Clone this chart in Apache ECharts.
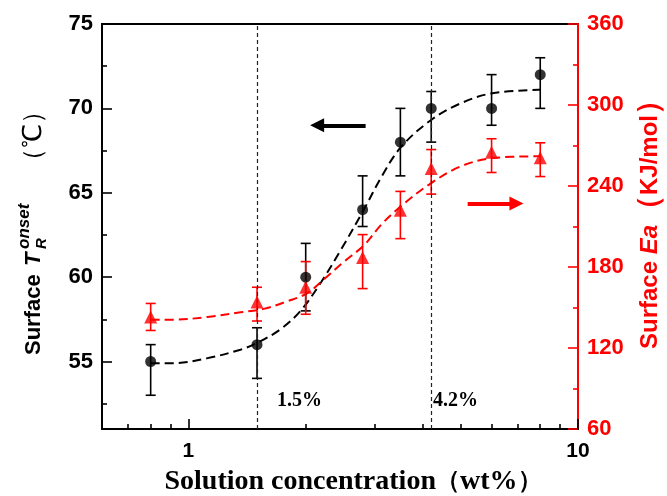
<!DOCTYPE html>
<html>
<head>
<meta charset="utf-8">
<script src="https://cdn.jsdelivr.net/npm/echarts@6/dist/echarts.min.js"></script>
<style>
html, body { margin: 0; padding: 0; background: #fff; }
#main { width: 667px; height: 496px; }
</style>
</head>
<body>
<div id="main"></div>
<script>
// measured points (solution concentration, wt%)
var conc = [0.8, 1.5, 2.0, 2.8, 3.5, 4.2, 6.0, 8.0];
// surface T_R onset (left axis, degC) with error bar ends
var tOnset = [55, 56, 60, 64, 68, 70, 70, 72];
var tHigh = [56, 57, 62, 66, 70, 71, 72, 73];
var tLow = [53, 54, 58, 63, 66, 68, 69, 70];
// surface Ea (right axis, kJ/mol) with error bar ends
var ea = [143, 154, 165, 187, 222, 253, 265, 261];
var eaHigh = [153, 165, 184, 204, 236, 267, 275, 272];
var eaLow = [133, 140, 145, 164, 201, 234, 250, 247];

// fitted curves
var tFitX = [0.8, 0.92, 1.12, 1.36, 1.5, 1.72, 1.94, 2.19, 2.46, 2.82, 3.14, 3.51, 4.19, 5.0, 6.03, 8.0];
var tFitY = [54.9, 54.9, 55.2, 55.7, 56.1, 56.9, 58.0, 59.7, 61.6, 64.0, 66.0, 67.7, 69.3, 70.3, 70.9, 71.1];
var eaFitX = [0.8, 0.92, 1.12, 1.36, 1.56, 1.79, 2.02, 2.27, 2.51, 2.82, 3.14, 3.51, 4.19, 5.0, 6.03, 8.0];
var eaFitY = [141, 141, 143, 146.4, 149, 154.5, 160.7, 173, 184, 196, 212, 225, 242, 254.5, 260.7, 262];

// threshold lines and arrows
var thresholds = [1.5, 4.2];
var leftArrow = [[2.85, 69], [2.14, 69]];
var rightArrow = [[5.21, 227], [6.95, 227]];

// axis ticks
var xMinor = [0.7, 0.8, 0.9, 2, 3, 4, 5, 6, 7, 8, 9];
var leftTicks = [55, 60, 65, 70, 75];
var leftMinor = [52.5, 57.5, 62.5, 67.5, 72.5];

function zip(a, b) {
  return a.map(function (v, i) { return [v, b[i]]; });
}

var sans = '"Liberation Sans", Arial, sans-serif';
var serif = '"Liberation Serif", "Times New Roman", serif';

function errBar(color, axisIdx, lo, hi) {
  return {
    type: 'custom',
    yAxisIndex: axisIdx,
    z: 4,
    silent: true,
    data: conc.map(function (c, i) { return [c, lo[i], hi[i]]; }),
    renderItem: function (params, api) {
      var x = api.value(0);
      var p1 = api.coord([x, api.value(1)]);
      var p2 = api.coord([x, api.value(2)]);
      var w = 5;
      var st = { stroke: color, lineWidth: 1.6 };
      return {
        type: 'group',
        children: [
          { type: 'line', shape: { x1: p1[0], y1: p1[1], x2: p2[0], y2: p2[1] }, style: st },
          { type: 'line', shape: { x1: p1[0] - w, y1: p1[1], x2: p1[0] + w, y2: p1[1] }, style: st },
          { type: 'line', shape: { x1: p2[0] - w, y1: p2[1], x2: p2[0] + w, y2: p2[1] }, style: st }
        ]
      };
    }
  };
}

var chart = echarts.init(document.getElementById('main'));

chart.setOption({
  animation: false,
  backgroundColor: '#fff',
  grid: [
    { left: 102, right: 89, top: 24, bottom: 67, outerBoundsMode: 'none', containLabel: false, show: true, borderColor: '#000', borderWidth: 2 },
    { left: 102, right: 89, top: 24, bottom: 67, outerBoundsMode: 'none', containLabel: false }
  ],
  xAxis: [
    {
      type: 'log', logBase: 10, min: 0.6, max: 10, gridIndex: 0,
      axisLine: { onZero: false, lineStyle: { color: '#000', width: 2 } },
      axisTick: { inside: true, length: 10, lineStyle: { color: '#000', width: 1.6 } },
      axisLabel: {
        margin: 12, color: '#000', fontFamily: sans, fontWeight: 'bold', fontSize: 21,
        formatter: function (v) {
          var l = Math.log10(v);
          return Math.abs(l - Math.round(l)) < 1e-6 ? String(Math.round(v)) : '';
        }
      },
      splitLine: { show: false },
      name: '{a|Solution concentration}{p|（}{a|wt%}{p|）}',
      nameLocation: 'middle',
      nameGap: 39,
      nameTextStyle: {
        padding: [0, 0, 0, 26],
        rich: {
          a: { color: '#000', fontFamily: serif, fontWeight: 'bold', fontSize: 28 },
          p: { color: '#000', fontFamily: serif, fontWeight: 'bold', fontSize: 24 }
        }
      }
    },
    {
      type: 'value', gridIndex: 1, min: Math.log10(0.6), max: 1,
      axisLine: { show: false, onZero: false },
      axisLabel: { show: false },
      splitLine: { show: false },
      axisTick: { show: true, inside: true, length: 5, customValues: xMinor.map(Math.log10), lineStyle: { color: '#000', width: 1.6 } }
    }
  ],
  yAxis: [
    {
      type: 'value', gridIndex: 0, position: 'left', min: 51, max: 75,
      axisLine: { show: true, onZero: false, lineStyle: { color: '#000', width: 2 } },
      axisTick: { show: true, inside: true, length: 10, customValues: leftTicks, lineStyle: { color: '#000', width: 1.6 } },
      axisLabel: { customValues: leftTicks, margin: 9, color: '#000', fontFamily: sans, fontWeight: 'bold', fontSize: 22 },
      splitLine: { show: false }
    },
    {
      type: 'value', gridIndex: 0, position: 'right', min: 60, max: 360, interval: 60,
      axisLine: { show: true, onZero: false, lineStyle: { color: '#ff0000', width: 2 } },
      axisTick: { show: true, inside: true, length: 10, lineStyle: { color: '#ff0000', width: 1.6 } },
      minorTick: { show: true, splitNumber: 2, length: 5, lineStyle: { color: '#ff0000', width: 1.6 } },
      axisLabel: { margin: 9, color: '#ff0000', fontFamily: sans, fontWeight: 'bold', fontSize: 22 },
      splitLine: { show: false }
    },
    {
      type: 'value', gridIndex: 1, position: 'left', min: 51, max: 75,
      axisLine: { show: false, onZero: false },
      axisLabel: { show: false },
      splitLine: { show: false },
      axisTick: { show: true, inside: true, length: 5, customValues: leftMinor, lineStyle: { color: '#000', width: 1.6 } }
    }
  ],
  series: [
    {
      type: 'line', xAxisIndex: 0, yAxisIndex: 0, z: 3,
      data: zip(tFitX, tFitY), smooth: 0.35, symbol: 'none', silent: true,
      lineStyle: { color: '#000', width: 2, type: [9, 5] },
      markLine: {
        silent: true, symbol: 'none', label: { show: false },
        lineStyle: { color: '#222', width: 1.2, type: [4, 3] },
        data: thresholds.map(function (t) { return { xAxis: t }; })
      }
    },
    {
      type: 'line', xAxisIndex: 0, yAxisIndex: 1, z: 3,
      data: zip(eaFitX, eaFitY), smooth: 0.35, symbol: 'none', silent: true,
      lineStyle: { color: '#ff0000', width: 2, type: [9, 5] }
    },
    errBar('#000', 0, tLow, tHigh),
    errBar('#ff0000', 1, eaLow, eaHigh),
    {
      type: 'scatter', xAxisIndex: 0, yAxisIndex: 0, z: 5,
      data: zip(conc, tOnset), symbol: 'circle', symbolSize: 11,
      itemStyle: { color: '#000' },
      markLine: {
        silent: true, symbol: ['none', 'triangle'], symbolSize: 14,
        label: { show: false },
        lineStyle: { color: '#000', width: 4, type: 'solid' },
        data: [[{ coord: leftArrow[0] }, { coord: leftArrow[1] }]]
      }
    },
    {
      type: 'scatter', xAxisIndex: 0, yAxisIndex: 1, z: 5,
      data: zip(conc, ea), symbol: 'triangle', symbolSize: 13,
      itemStyle: { color: '#ff0000' },
      markLine: {
        silent: true, symbol: ['none', 'triangle'], symbolSize: 14,
        label: { show: false },
        lineStyle: { color: '#ff0000', width: 4, type: 'solid' },
        data: [[{ coord: rightArrow[0] }, { coord: rightArrow[1] }]]
      }
    }
  ],
  graphic: [
    {
      type: 'group', x: 34, y: 355, rotation: Math.PI / 2,
      children: [
        { type: 'text', x: 0, y: 0, style: { text: 'Surface', font: 'bold 22px ' + sans, fill: '#000', verticalAlign: 'middle' } },
        { type: 'text', x: 89, y: 0, style: { text: 'T', font: 'italic bold 22px ' + sans, fill: '#000', verticalAlign: 'middle' } },
        { type: 'text', x: 106, y: 8, style: { text: 'R', font: 'italic bold 15px ' + sans, fill: '#000', verticalAlign: 'middle' } },
        { type: 'text', x: 106, y: -10, style: { text: 'onset', font: 'italic bold 17px ' + sans, fill: '#000', verticalAlign: 'middle' } },
        { type: 'text', x: 181, y: 0, style: { text: '（℃）', font: '26px ' + sans, fill: '#000', verticalAlign: 'middle' } }
      ]
    },
    {
      type: 'text', x: 650, y: 217, rotation: Math.PI / 2,
      style: {
        text: '{b|Surface }{i|Ea}{p|（}{b|KJ/mol}{p|）}',
        align: 'center', verticalAlign: 'middle',
        rich: {
          b: { fill: '#ff0000', fontFamily: sans, fontWeight: 'bold', fontSize: 24 },
          i: { fill: '#ff0000', fontFamily: sans, fontWeight: 'bold', fontStyle: 'italic', fontSize: 24 },
          p: { fill: '#ff0000', fontFamily: sans, fontWeight: 'bold', fontSize: 30 }
        }
      }
    },
    { type: 'text', x: 277, y: 401, style: { text: '1.5%', font: 'bold 20px ' + serif, fill: '#000', verticalAlign: 'middle' } },
    { type: 'text', x: 433, y: 401, style: { text: '4.2%', font: 'bold 20px ' + serif, fill: '#000', verticalAlign: 'middle' } }
  ]
});
</script>
</body>
</html>
